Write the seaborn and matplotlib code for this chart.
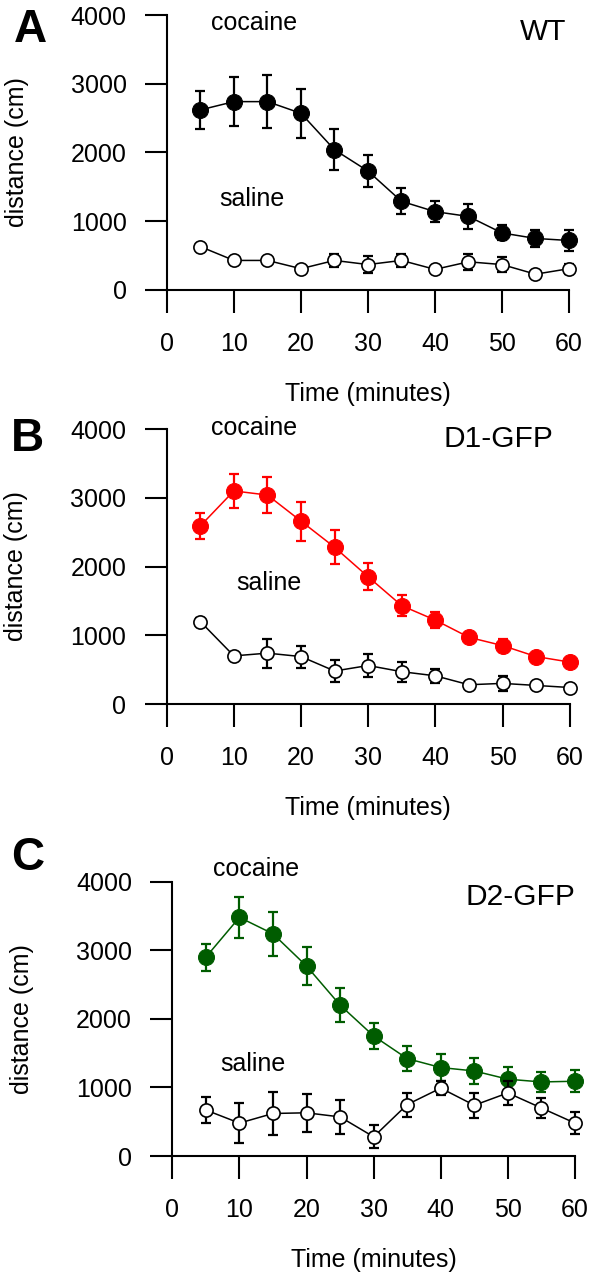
import numpy as np
import matplotlib
matplotlib.use('Agg')
import matplotlib.pyplot as plt
import seaborn as sns
import pandas as pd

# time points (minutes)
time = [5, 10, 15, 20, 25, 30, 35, 40, 45, 50, 55, 60]

# panel A - WT
wt_cocaine = [2620, 2740, 2740, 2570, 2040, 1730, 1290, 1140, 1070, 830, 750, 720]
wt_cocaine_err = [280, 360, 390, 360, 300, 230, 190, 150, 185, 110, 120, 155]
wt_saline = [630, 430, 430, 310, 430, 370, 430, 300, 410, 370, 230, 310]
wt_saline_err = [30, 30, 30, 30, 100, 120, 100, 30, 120, 110, 30, 75]

# panel B - D1-GFP
d1_cocaine = [2590, 3100, 3040, 2660, 2280, 1850, 1430, 1220, 970, 850, 690, 610]
d1_cocaine_err = [185, 245, 265, 285, 245, 195, 155, 120, 50, 90, 50, 50]
d1_saline = [1200, 700, 740, 690, 480, 560, 470, 410, 280, 300, 270, 240]
d1_saline_err = [50, 40, 210, 160, 160, 165, 145, 105, 40, 110, 40, 30]

# panel C - D2-GFP
d2_cocaine = [2900, 3480, 3240, 2770, 2200, 1750, 1420, 1290, 1240, 1120, 1080, 1090]
d2_cocaine_err = [195, 300, 325, 280, 250, 190, 185, 195, 190, 175, 145, 160]
d2_saline = [670, 480, 620, 630, 570, 280, 750, 990, 740, 920, 700, 480]
d2_saline_err = [195, 290, 320, 280, 245, 170, 175, 100, 185, 170, 150, 155]

panels = [
    dict(letter='A', name='WT', color='#000000',
         coc=wt_cocaine, coc_err=wt_cocaine_err, sal=wt_saline, sal_err=wt_saline_err,
         rect=[0.2816, 0.77344, 0.6779, 0.21484],
         coc_xy=(13, 3880), sal_xy=(12.6, 1320), name_xy=(56.2, 3760), letter_xy=(0.051, 0.9766)),
    dict(letter='B', name='D1-GFP', color='#ff0000',
         coc=d1_cocaine, coc_err=d1_cocaine_err, sal=d1_saline, sal_err=d1_saline_err,
         rect=[0.2811, 0.45, 0.6796, 0.2148],
         coc_xy=(13, 4010), sal_xy=(15.2, 1760), name_xy=(49.4, 3860), letter_xy=(0.047, 0.657)),
    dict(letter='C', name='D2-GFP', color='#005c00',
         coc=d2_cocaine, coc_err=d2_cocaine_err, sal=d2_saline, sal_err=d2_saline_err,
         rect=[0.2906, 0.096875, 0.679, 0.2143],
         coc_xy=(12.5, 4190), sal_xy=(12.0, 1340), name_xy=(51.8, 3780), letter_xy=(0.047, 0.33)),
]

sns.set_style('ticks')
plt.rcParams['font.family'] = ['Liberation Sans', 'DejaVu Sans']
plt.rcParams['text.color'] = 'black'
plt.rcParams['axes.labelcolor'] = 'black'
plt.rcParams['xtick.color'] = 'black'
plt.rcParams['ytick.color'] = 'black'

fig = plt.figure(figsize=(5.93, 12.8), dpi=100)

for p in panels:
    ax = fig.add_axes(p['rect'])
    df = pd.DataFrame({'time': time * 2,
                       'distance': p['coc'] + p['sal'],
                       'err': p['coc_err'] + p['sal_err'],
                       'group': ['cocaine'] * len(time) + ['saline'] * len(time)})
    coc = df[df.group == 'cocaine']
    sal = df[df.group == 'saline']

    # cocaine
    ax.errorbar(coc['time'], coc['distance'], yerr=coc['err'], fmt='none',
                ecolor=p['color'], elinewidth=1.6, capsize=3.6, capthick=1.6,
                clip_on=False, zorder=2)
    sns.lineplot(data=coc, x='time', y='distance', ax=ax, color=p['color'], lw=1.1,
                 marker='o', markersize=11.5, markeredgecolor=p['color'],
                 markerfacecolor=p['color'], clip_on=False, zorder=3)
    # saline
    ax.errorbar(sal['time'], sal['distance'], yerr=sal['err'], fmt='none',
                ecolor='black', elinewidth=1.6, capsize=3.6, capthick=1.6,
                clip_on=False, zorder=4)
    sns.lineplot(data=sal, x='time', y='distance', ax=ax, color='black', lw=1.1,
                 marker='o', markersize=9.5, markeredgecolor='black', markeredgewidth=1.2,
                 markerfacecolor='white', clip_on=False, zorder=5)

    ax.set_xlim(0, 60)
    ax.set_ylim(0, 4000)
    ax.set_xticks(range(0, 61, 10))
    ax.set_yticks(range(0, 4001, 1000))
    for s in ['top', 'right']:
        ax.spines[s].set_visible(False)
    for s in ['bottom', 'left']:
        ax.spines[s].set_linewidth(1.5)
        ax.spines[s].set_color('black')
    ax.tick_params(axis='x', direction='out', length=16.5, width=1.5, pad=14, labelsize=18, colors='black')
    ax.tick_params(axis='y', direction='out', length=16, width=1.5, pad=13, labelsize=18, colors='black')

    ax.set_xlabel('Time (minutes)', fontsize=18, va='center', color='black')
    ax.set_ylabel('distance (cm)', fontsize=18, va='center', color='black')
    ax.xaxis.set_label_coords(0.5, -0.38)
    ax.yaxis.set_label_coords(-0.374, 0.5)

    ax.text(*p['coc_xy'], 'cocaine', fontsize=18, ha='center', va='center')
    ax.text(*p['sal_xy'], 'saline', fontsize=18, ha='center', va='center')
    ax.text(*p['name_xy'], p['name'], fontsize=21.5, ha='center', va='center')

    fig.text(*p['letter_xy'], p['letter'], fontsize=33, fontweight='bold', ha='center', va='center')

fig.savefig('out.png', dpi=100)
